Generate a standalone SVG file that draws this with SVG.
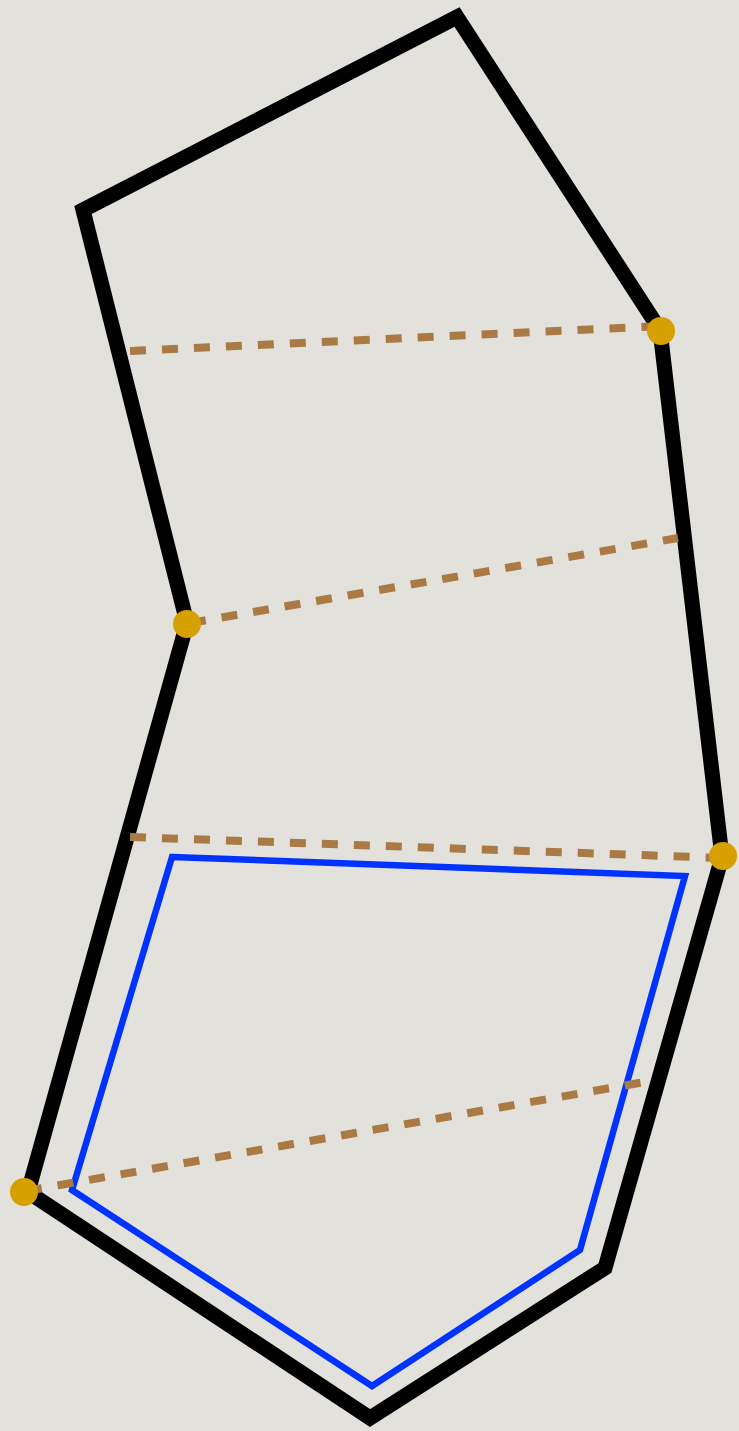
<svg xmlns="http://www.w3.org/2000/svg" width="739" height="1431" viewBox="0 0 739 1431">
<style>
.outer{fill:none;stroke:#000;stroke-width:15;stroke-linejoin:miter;stroke-miterlimit:10}
.inner{fill:none;stroke:#0033ff;stroke-width:6.5;stroke-linejoin:miter;stroke-miterlimit:10}
.dash{fill:none;stroke:#ab7a44;stroke-width:8;stroke-dasharray:16 16}
.dot{fill:#d6a100}
</style>
<rect width="739" height="1431" fill="#e2e1dc"/>
<g id="outer-shape"><polygon class="outer" points="457,17 83,210 187,623 28,1192 370,1418 605,1268 722,857 660,330"/></g>
<g id="inner-shape"><polygon class="inner" points="172,857 685,876 580,1250 372,1386 72,1190"/></g>
<g id="connectors">
<line class="dash" x1="130" y1="351" x2="662" y2="326"/>
<line class="dash" x1="190" y1="623" x2="678" y2="538"/>
<line class="dash" x1="130" y1="837" x2="723" y2="858"/>
<line class="dash" x1="26" y1="1191" x2="656" y2="1080"/>
</g>
<g id="points">
<circle class="dot" cx="661" cy="331" r="14"/>
<circle class="dot" cx="187" cy="624" r="14"/>
<circle class="dot" cx="723" cy="856" r="14"/>
<circle class="dot" cx="24" cy="1192" r="14"/>
</g>
</svg>
